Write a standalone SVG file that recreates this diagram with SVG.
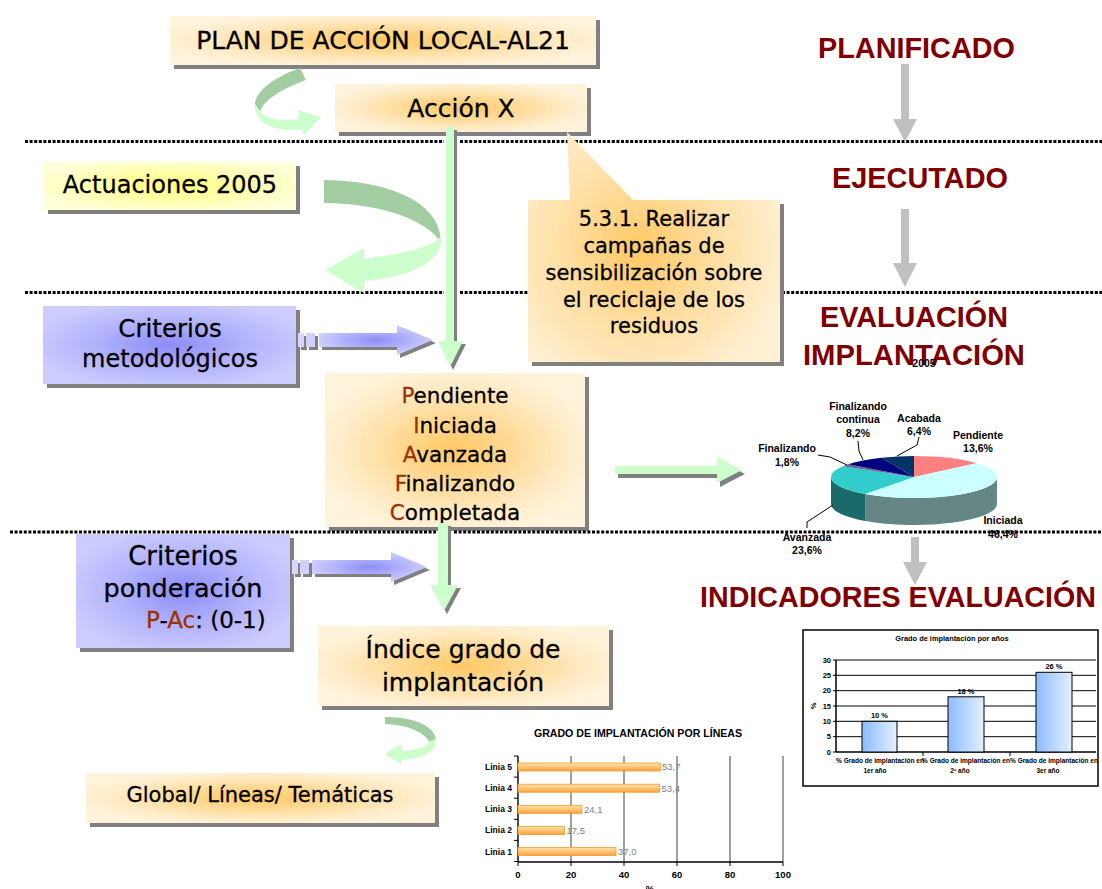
<svg xmlns="http://www.w3.org/2000/svg" width="1102" height="889" viewBox="0 0 1102 889">
<defs>
<radialGradient id="gOr" cx="0.5" cy="0.5" r="0.56">
<stop offset="0" stop-color="#ffc864"/><stop offset="0.4" stop-color="#ffda96"/><stop offset="0.75" stop-color="#ffebc6"/><stop offset="1" stop-color="#fff3dc"/>
</radialGradient>
<radialGradient id="gCall" gradientUnits="userSpaceOnUse" cx="640" cy="250" r="150">
<stop offset="0" stop-color="#ffc864"/><stop offset="0.45" stop-color="#ffdc9c"/><stop offset="1" stop-color="#fff0d4"/>
</radialGradient>
<radialGradient id="gYel" cx="0.5" cy="0.5" r="0.56">
<stop offset="0" stop-color="#ffff7a"/><stop offset="0.5" stop-color="#ffffa8"/><stop offset="1" stop-color="#ffffd8"/>
</radialGradient>
<radialGradient id="gBlu" cx="0.5" cy="0.5" r="0.56">
<stop offset="0" stop-color="#8c8cf8"/><stop offset="0.5" stop-color="#b0b0fc"/><stop offset="1" stop-color="#ccccff"/>
</radialGradient>
<radialGradient id="gBluA" cx="0.5" cy="0.5" r="0.55">
<stop offset="0" stop-color="#8e8ef8"/><stop offset="1" stop-color="#d2d2ff"/>
</radialGradient>
<linearGradient id="gBar" x1="0" y1="0" x2="1" y2="0">
<stop offset="0" stop-color="#8cbcff"/><stop offset="1" stop-color="#e4f0ff"/>
</linearGradient>
<linearGradient id="gOB" x1="0" y1="0" x2="0" y2="1">
<stop offset="0" stop-color="#ffe0b0"/><stop offset="0.5" stop-color="#ffc676"/><stop offset="1" stop-color="#ff9e3a"/>
</linearGradient>
<style>
.sh{fill:#808080}
.bx{font-family:"DejaVu Sans",Verdana,sans-serif;fill:#000;stroke:#000;stroke-width:0.3;text-anchor:middle}
.ini{fill:#993300;stroke:#993300}
.tt{font-family:"Liberation Sans",Arial,sans-serif;font-weight:bold;fill:#800000;font-size:30px}
.dot{stroke:#000;stroke-width:3;stroke-dasharray:3 1.6;fill:none}
.gr{fill:#ccffcc}
.dg{fill:#a2cca2}
.ga{fill:#c0c0c0}
.lb{font-family:"Liberation Sans",Arial,sans-serif;font-weight:bold;font-size:10.5px;fill:#000;text-anchor:middle}
.ld{stroke:#000;stroke-width:1;fill:none}
.cf{font-family:"Liberation Sans",Arial,sans-serif;font-weight:bold;fill:#000}
</style>
</defs>
<rect width="1102" height="889" fill="#fff"/>

<g id="separators">
<line class="dot" x1="25" y1="141.5" x2="444" y2="141.5"/>
<line class="dot" x1="460" y1="141.5" x2="1102" y2="141.5"/>
<line class="dot" x1="25" y1="292.5" x2="444" y2="292.5"/>
<line class="dot" x1="460" y1="292.5" x2="1102" y2="292.5"/>
</g>

<g id="titles">
<text class="tt" x="818" y="58" textLength="197" lengthAdjust="spacingAndGlyphs">PLANIFICADO</text>
<text class="tt" x="832" y="188" textLength="176" lengthAdjust="spacingAndGlyphs">EJECUTADO</text>
<text class="tt" x="820" y="327" textLength="188" lengthAdjust="spacingAndGlyphs">EVALUACIÓN</text>
<text class="tt" x="803" y="365" textLength="222" lengthAdjust="spacingAndGlyphs">IMPLANTACIÓN</text>
<text class="tt" x="700" y="607" textLength="396" lengthAdjust="spacingAndGlyphs">INDICADORES EVALUACIÓN</text>
</g>

<g id="plan">
<rect class="sh" x="174" y="20" width="426" height="49"/>
<rect x="170" y="16" width="426" height="49" fill="url(#gOr)"/>
<text class="bx" x="383" y="49" font-size="25">PLAN DE ACCIÓN LOCAL-AL21</text>
</g>

<g id="accion">
<rect class="sh" x="339" y="88" width="252" height="48"/>
<rect x="335" y="84" width="252" height="48" fill="url(#gOr)"/>
<text class="bx" x="461" y="117" font-size="25">Acción X</text>
</g>

<g id="actuaciones">
<rect class="sh" x="48" y="166" width="252" height="48"/>
<rect x="44" y="162" width="252" height="48" fill="url(#gYel)"/>
<text class="bx" x="170" y="193" font-size="24">Actuaciones 2005</text>
</g>

<g id="callout">
<rect class="sh" x="532" y="204" width="252" height="162"/>
<path d="M528 200 H570 L567 132 L633 200 H780 V362 H528 Z" fill="url(#gCall)"/>
<g class="bx" font-size="21">
<text x="654" y="226">5.3.1. Realizar</text>
<text x="654" y="253">campañas de</text>
<text x="654" y="280">sensibilización sobre</text>
<text x="654" y="307">el reciclaje de los</text>
<text x="654" y="333">residuos</text>
</g>
</g>

<g id="criterios-metodologicos">
<rect class="sh" x="47" y="310" width="253" height="78"/>
<rect x="43" y="306" width="253" height="78" fill="url(#gBlu)"/>
<text class="bx" x="170" y="337" font-size="24.5">Criterios</text>
<text class="bx" x="170" y="367" font-size="24">metodológicos</text>
</g>

<g id="estados">
<rect class="sh" x="329" y="377" width="260" height="154"/>
<rect x="325" y="373" width="260" height="154" fill="url(#gOr)"/>
<g class="bx" font-size="21.5">
<text x="455" y="403"><tspan class="ini">P</tspan>endiente</text>
<text x="455" y="433"><tspan class="ini">I</tspan>niciada</text>
<text x="455" y="462"><tspan class="ini">A</tspan>vanzada</text>
<text x="455" y="491"><tspan class="ini">F</tspan>inalizando</text>
<text x="455" y="520"><tspan class="ini">C</tspan>ompletada</text>
</g>
</g>

<g id="criterios-ponderacion">
<rect class="sh" x="80" y="538" width="214" height="114"/>
<rect x="76" y="534" width="214" height="114" fill="url(#gBlu)"/>
<text class="bx" x="183" y="565" font-size="26">Criterios</text>
<text class="bx" x="183" y="597" font-size="25.5">ponderación</text>
<text class="bx" x="146" y="628" font-size="23" style="text-anchor:start"><tspan class="ini">P</tspan>-<tspan class="ini">Ac</tspan>: (0-1)</text>
</g>

<g id="indice">
<rect class="sh" x="322" y="630" width="291" height="80"/>
<rect x="318" y="626" width="291" height="80" fill="url(#gOr)"/>
<text class="bx" x="463" y="658" font-size="25">Índice grado de</text>
<text class="bx" x="463" y="691" font-size="25">implantación</text>
</g>

<g id="global">
<rect class="sh" x="90" y="777" width="349" height="50"/>
<rect x="86" y="773" width="349" height="50" fill="url(#gOr)"/>
<text class="bx" x="260" y="802" font-size="21">Global/ Líneas/ Temáticas</text>
</g>

<g id="connectors">
<path class="dg" d="M300 68 C278 76 254 90 255 106 L260 113 C262 100 284 88 306 80 Z"/>
<path class="gr" d="M255 104 C254 122 272 133 302 129 L304 135 L321 117 L298 110 L299 119 C280 122 263 118 260 111 Z"/>
<path class="dg" d="M324 180 C395 181 441 205 441 242 C425 220 385 204 324 203 Z"/>
<path class="gr" d="M441 236 C444 262 410 277 364 281 L364 293 L325 270 L364 248 L364 259 C400 254 432 248 441 236 Z"/>
<path class="dg" d="M385 717 C416 717 436 727 436 741 L430 743 C425 733 410 725 385 724 Z"/>
<path class="gr" d="M436 739 C437 753 421 759 401 760 L401 764 L385 754 L401 744 L401 751 C417 750 428 747 430 741 Z"/>
<path class="sh" d="M449 130 H457 V344 H466 L453 370 L441 344 H449 Z"/>
<path class="gr" d="M446 127 H454 V341 H463 L450 367 L438 341 H446 Z"/>
<path class="sh" d="M441 526 H451 V588 H461 L447 614 L433 588 H441 Z"/>
<path class="gr" d="M438 523 H448 V585 H458 L444 611 L430 585 H438 Z"/>
<path class="sh" d="M618 470 H720 V461 L745 474 L720 487 V478 H618 Z"/>
<path class="gr" d="M615 466 H717 V457 L742 470 L717 483 V474 H615 Z"/>
<g transform="translate(3,3)" class="sh">
<rect x="298" y="333" width="6" height="14"/><rect x="306" y="333" width="9" height="14"/>
<path d="M319 333 H397 V325 L433 340 L397 355 V347 H319 Z"/>
</g>
<rect x="298" y="333" width="6" height="14" fill="#d6d6ff"/><rect x="306" y="333" width="9" height="14" fill="#d0d0ff"/>
<path d="M319 333 H397 V325 L433 340 L397 355 V347 H319 Z" fill="url(#gBluA)"/>
<g transform="translate(3,3)" class="sh">
<rect x="292" y="560" width="6" height="14"/><rect x="300" y="560" width="9" height="14"/>
<path d="M312 560 H391 V552 L427 567 L391 582 V574 H312 Z"/>
</g>
<rect x="292" y="560" width="6" height="14" fill="#d6d6ff"/><rect x="300" y="560" width="9" height="14" fill="#d0d0ff"/>
<path d="M312 560 H391 V552 L427 567 L391 582 V574 H312 Z" fill="url(#gBluA)"/>
<path class="ga" d="M901 64 H909 V119 H917 L905 142 L893 119 H901 Z"/>
<path class="ga" d="M901 209 H909 V263 H917 L905 287 L893 263 H901 Z"/>
<path class="ga" d="M911 537 H919 V562 H927 L915 585 L903 562 H911 Z"/>
</g>

<g id="pie-chart">
<path d="M997 477 A83 21 0 0 1 865.2 494 L865.2 521 A83 21 0 0 0 997 504 Z" fill="#668585"/>
<path d="M865.2 494 A83 21 0 0 1 831 477 L831 504 A83 21 0 0 0 865.2 521 Z" fill="#1a6a6a"/>
<path d="M914 477 L914 456 A83 21 0 0 1 976.6 463.2 Z" fill="#ff8080"/>
<path d="M914 477 L976.6 463.2 A83 21 0 0 1 865.2 494 Z" fill="#ccffff"/>
<path d="M914 477 L865.2 494 A83 21 0 0 1 842.9 466.2 Z" fill="#33cccc"/>
<path d="M914 477 L842.9 466.2 A83 21 0 0 1 848.1 464.2 Z" fill="#666699"/>
<path d="M914 477 L848.1 464.2 A83 21 0 0 1 881.6 457.7 Z" fill="#000080"/>
<path d="M914 477 L881.6 457.7 A83 21 0 0 1 914 456 Z" fill="#003366"/>
<polyline class="ld" points="858,441 859,451 863,460"/>
<polyline class="ld" points="919,437 917,445 897,456"/>
<polyline class="ld" points="818,455 830,457 847,465"/>
<polyline class="ld" points="833,505 807,522 807,528"/>
<text class="lb" x="858" y="410">Finalizando</text>
<text class="lb" x="858" y="423">continua</text>
<text class="lb" x="858" y="437">8,2%</text>
<text class="lb" x="919" y="422">Acabada</text>
<text class="lb" x="919" y="435">6,4%</text>
<text class="lb" x="978" y="439">Pendiente</text>
<text class="lb" x="978" y="452">13,6%</text>
<text class="lb" x="787" y="452">Finalizando</text>
<text class="lb" x="787" y="466">1,8%</text>
<text class="lb" x="1003" y="524">Iniciada</text>
<text class="lb" x="1003" y="538">46,4%</text>
<text class="lb" x="807" y="541">Avanzada</text>
<text class="lb" x="807" y="554">23,6%</text>
<text class="lb" x="924" y="367" font-size="11">2005</text>
</g>

<g id="separator-3">
<line class="dot" x1="10" y1="532" x2="436" y2="532"/>
<line class="dot" x1="454" y1="532" x2="1102" y2="532"/>
</g>

<g id="chart-anos">
<rect x="803" y="630" width="295" height="156" fill="#fff" stroke="#000" stroke-width="1.5"/>
<text class="cf" x="952" y="641" font-size="7.4" text-anchor="middle">Grado de implantación por años</text>
<g stroke="#000" stroke-width="1">
<line x1="836" y1="660" x2="1096" y2="660"/>
<line x1="836" y1="675.3" x2="1096" y2="675.3"/>
<line x1="836" y1="690.7" x2="1096" y2="690.7"/>
<line x1="836" y1="706" x2="1096" y2="706"/>
<line x1="836" y1="721.3" x2="1096" y2="721.3"/>
<line x1="836" y1="736.7" x2="1096" y2="736.7"/>
<line x1="833" y1="660" x2="836" y2="660"/><line x1="833" y1="675.3" x2="836" y2="675.3"/><line x1="833" y1="690.7" x2="836" y2="690.7"/><line x1="833" y1="706" x2="836" y2="706"/><line x1="833" y1="721.3" x2="836" y2="721.3"/><line x1="833" y1="736.7" x2="836" y2="736.7"/><line x1="833" y1="752" x2="836" y2="752"/>
<line x1="923" y1="752" x2="923" y2="756"/><line x1="1010" y1="752" x2="1010" y2="756"/>
</g>
<line x1="836" y1="660" x2="836" y2="752" stroke="#000" stroke-width="1.5"/>
<line x1="836" y1="752" x2="1096" y2="752" stroke="#000" stroke-width="1.5"/>
<rect x="862" y="721.3" width="35" height="30.7" fill="url(#gBar)" stroke="#000" stroke-width="1"/>
<rect x="948" y="696.8" width="36" height="55.2" fill="url(#gBar)" stroke="#000" stroke-width="1"/>
<rect x="1036" y="672.3" width="36" height="79.7" fill="url(#gBar)" stroke="#000" stroke-width="1"/>
<g class="cf" font-size="7.5" text-anchor="end">
<text x="831" y="662.6">30</text><text x="831" y="677.9">25</text><text x="831" y="693.3">20</text><text x="831" y="708.6">15</text><text x="831" y="723.9">10</text><text x="831" y="739.3">5</text><text x="831" y="754.6">0</text>
</g>
<text class="cf" font-size="7.5" text-anchor="middle" transform="translate(816,706) rotate(-90)">%</text>
<g class="cf" font-size="7.5" text-anchor="middle">
<text x="879.5" y="718">10 %</text><text x="966" y="693.5">18 %</text><text x="1054" y="669">26 %</text>
</g>
<g class="cf" font-size="6.5" text-anchor="middle">
<text x="880" y="763" textLength="88" lengthAdjust="spacingAndGlyphs">% Grado de implantación en</text>
<text x="966" y="763" textLength="88" lengthAdjust="spacingAndGlyphs">% Grado de implantación en</text>
<text x="1054" y="763" textLength="88" lengthAdjust="spacingAndGlyphs">% Grado de implantación en</text>
<text x="875" y="773">1er año</text><text x="960" y="773">2º año</text><text x="1048" y="773">3er año</text>
</g>
</g>

<g id="chart-lineas">
<text class="cf" x="638" y="737" font-size="10.6" text-anchor="middle">GRADO DE IMPLANTACIÓN POR LÍNEAS</text>
<g stroke="#404040" stroke-width="1">
<line x1="571" y1="756" x2="571" y2="862"/><line x1="624" y1="756" x2="624" y2="862"/><line x1="677" y1="756" x2="677" y2="862"/><line x1="730" y1="756" x2="730" y2="862"/><line x1="783" y1="756" x2="783" y2="862"/>
</g>
<g stroke="#000" stroke-width="1">
<line x1="514" y1="756" x2="518" y2="756"/><line x1="514" y1="777.1" x2="518" y2="777.1"/><line x1="514" y1="798.2" x2="518" y2="798.2"/><line x1="514" y1="819.3" x2="518" y2="819.3"/><line x1="514" y1="840.4" x2="518" y2="840.4"/><line x1="514" y1="861.5" x2="518" y2="861.5"/>
<line x1="518" y1="862" x2="518" y2="866"/><line x1="571" y1="862" x2="571" y2="866"/><line x1="624" y1="862" x2="624" y2="866"/><line x1="677" y1="862" x2="677" y2="866"/><line x1="730" y1="862" x2="730" y2="866"/><line x1="783" y1="862" x2="783" y2="866"/>
</g>
<line x1="518" y1="756" x2="518" y2="862" stroke="#000" stroke-width="1.4"/>
<line x1="518" y1="862" x2="783" y2="862" stroke="#000" stroke-width="1.4"/>
<g fill="url(#gOB)" stroke="#f59a2a" stroke-width="0.8">
<rect x="518" y="763" width="142.3" height="8"/>
<rect x="518" y="784.2" width="141.5" height="8"/>
<rect x="518" y="805.3" width="63.9" height="8"/>
<rect x="518" y="826.4" width="46.4" height="8"/>
<rect x="518" y="847.5" width="98" height="8"/>
</g>
<g font-family="Liberation Sans, Arial, sans-serif" font-size="9.5" fill="#808080">
<text x="662" y="770.3">53,7</text><text x="661.5" y="791.5">53,4</text><text x="584" y="812.6">24,1</text><text x="566.5" y="833.7">17,5</text><text x="618" y="854.8">37,0</text>
</g>
<g class="cf" font-size="8.5" text-anchor="end">
<text x="512" y="770">Linia 5</text><text x="512" y="791.2">Linia 4</text><text x="512" y="812.3">Linia 3</text><text x="512" y="833.4">Linia 2</text><text x="512" y="854.5">Linia 1</text>
</g>
<g class="cf" font-size="9.5" text-anchor="middle">
<text x="518" y="878">0</text><text x="571" y="878">20</text><text x="624" y="878">40</text><text x="677" y="878">60</text><text x="730" y="878">80</text><text x="783" y="878">100</text>
<text x="650" y="892">%</text>
</g>
</g>
</svg>
